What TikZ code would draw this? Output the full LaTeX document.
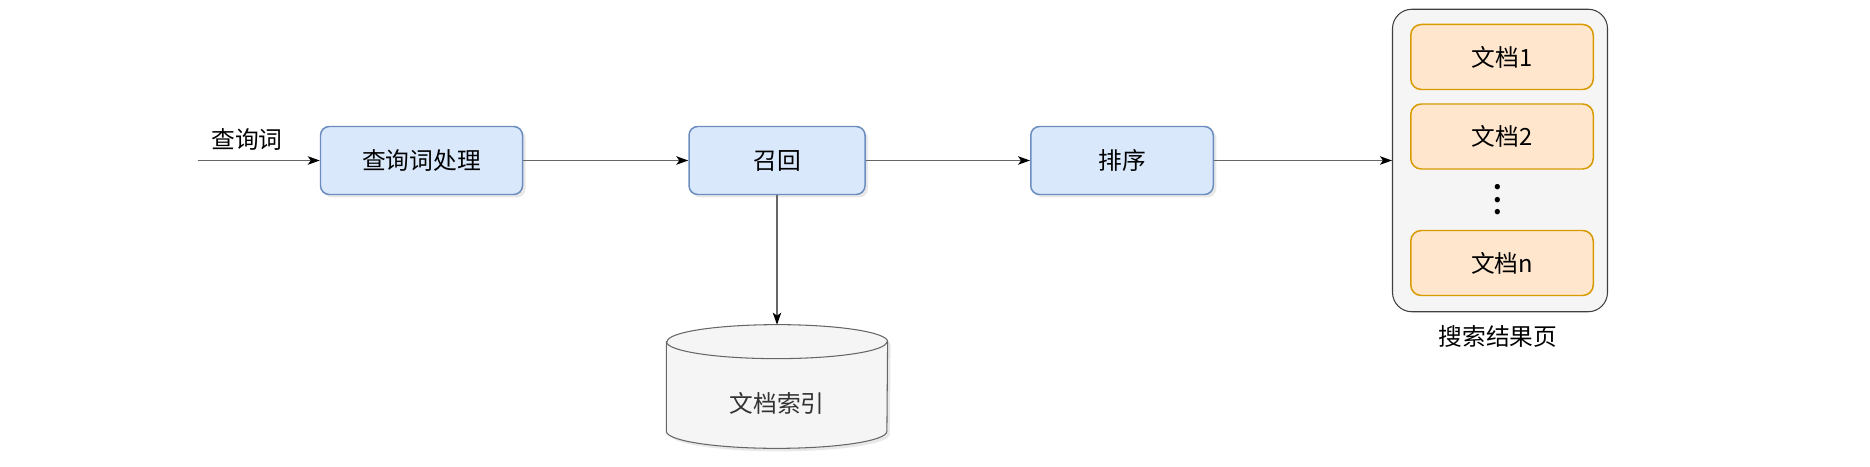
\documentclass[tikz,border=0pt]{standalone}
\usepackage{fontspec}
\setmainfont{Noto Sans CJK SC}
\usepackage{xcolor}
\usepackage{tikz}
\usetikzlibrary{shapes.geometric, arrows.meta, positioning, calc, shadows}

\definecolor{stagefill}{HTML}{DAE8FC}
\definecolor{stagedraw}{HTML}{6C8EBF}
\definecolor{docfill}{HTML}{FFE6CC}
\definecolor{docdraw}{HTML}{D79B00}
\definecolor{greyfill}{HTML}{F5F5F5}
\definecolor{greydraw}{HTML}{666666}

\begin{document}
\begin{tikzpicture}[
    font=\fontsize{13.5}{16}\selectfont,
    softshadow/.style={drop shadow={shadow xshift=0.06cm, shadow yshift=-0.06cm, opacity=0.18}},
    stage/.style={rectangle, draw=stagedraw, fill=stagefill, line width=0.85pt, rounded corners=5pt, minimum height=1.36cm, align=center, softshadow},
    doc/.style={rectangle, draw=docdraw, fill=docfill, line width=0.85pt, rounded corners=6pt, minimum width=3.65cm, minimum height=1.3cm},
    flow/.style={draw=black!60, line width=0.6pt, -{Stealth[length=0.24cm, width=0.17cm, inset=0.06cm, color=black]}}
]
\useasboundingbox (0,0) rectangle (37.4,9.32);

% Query pipeline
\coordinate (qin) at (3.95, 6.11);
\node[inner sep=0pt] (qlabel) at (4.94, 6.53) {查询词};
\node[stage, minimum width=4.04cm] (qproc) at (8.43, 6.11) {查询词处理};
\node[stage, minimum width=3.52cm] (recall) at (15.54, 6.11) {召回};
\node[stage, minimum width=3.65cm] (rank) at (22.44, 6.11) {排序};

% Index store (cylinder drawn round an empty node)
\node[minimum width=4.41cm, minimum height=2.46cm, inner sep=0pt] (index) at (15.54, 1.59) {};
\path[draw=greydraw, fill=greyfill, line width=0.6pt, softshadow]
    ($(index.north west)+(0,-0.34)$) -- ($(index.south west)+(0,0.34)$)
    arc[start angle=180, end angle=360, x radius=2.205cm, y radius=0.34cm]
    -- ($(index.north east)+(0,-0.34)$)
    arc[start angle=0, end angle=180, x radius=2.205cm, y radius=0.34cm] -- cycle;
\draw[greydraw, line width=0.6pt] ($(index.north west)+(0,-0.34)$)
    arc[start angle=180, end angle=360, x radius=2.205cm, y radius=0.34cm];
\node[text=black!80] (indexlabel) at ($(index.center)+(0,-0.33)$) {文档索引};

% Result page
\node[rectangle, draw=black!75, fill=greyfill, line width=0.6pt, rounded corners=11pt,
      minimum width=4.30cm, minimum height=6.05cm] (page) at (30.0, 6.11) {};
\node[doc] (doc1) at (30.04, 8.18) {文档1};
\node[doc] (doc2) at (30.04, 6.59) {文档2};
\node[align=center, font=\fontsize{14}{7.1}\selectfont\bfseries, inner sep=0pt] (dots) at (29.96, 5.32) {.\\.\\.};
\node[doc] (docn) at (30.04, 4.06) {文档n};
\node (pagelabel) at (29.96, 2.59) {搜索结果页};

\draw[flow] (qin) -- (qproc);
\draw[flow] (qproc) -- (recall);
\draw[flow] (recall) -- (rank);
\draw[flow] (recall) -- (index);
\draw[flow] (rank) -- (page);

\end{tikzpicture}
\end{document}
